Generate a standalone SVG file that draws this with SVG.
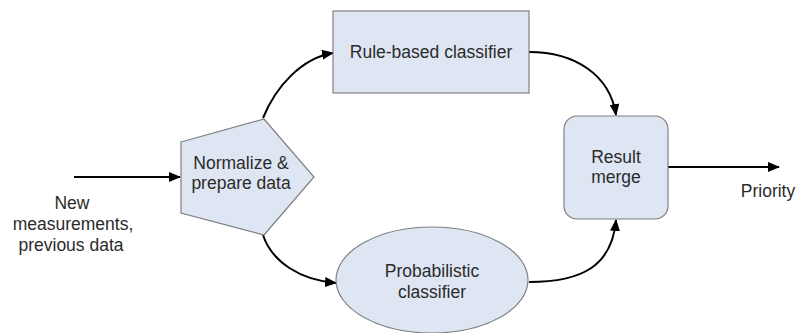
<svg xmlns="http://www.w3.org/2000/svg" width="797" height="333" viewBox="0 0 797 333">
  <style>
    .shape { fill: #dfe6f3; stroke: #7f7f7f; stroke-width: 1.2; }
    .label { font-family: "Liberation Sans", Arial, sans-serif; font-size: 17.5px; fill: #2b2b2b; text-anchor: middle; }
    .wire { fill: none; stroke: #000; stroke-width: 2; marker-end: url(#arrow); }
  </style>
  <defs>
    <marker id="arrow" markerUnits="userSpaceOnUse" markerWidth="12" markerHeight="10" refX="11" refY="5" orient="auto">
      <path d="M0,0 L12,5 L0,10 z" fill="#000"/>
    </marker>
  </defs>

  <rect width="797" height="333" fill="#fff"/>

  <!-- connectors -->
  <g id="connectors">
    <path class="wire" d="M74,177 L180,177"/>
    <path class="wire" d="M263,118 C276,86 302,58 333,53"/>
    <path class="wire" d="M263,235 C272,262 300,280 336,283"/>
    <path class="wire" d="M529,52 C575,52 610,75 616,115"/>
    <path class="wire" d="M529,282 C582,282 612,266 616,220"/>
    <path class="wire" d="M668,167 L779,167"/>
  </g>

  <!-- input text -->
  <g id="input">
    <text class="label" x="72" y="209">New</text>
    <text class="label" x="73" y="230">measurements,</text>
    <text class="label" x="71" y="251">previous data</text>
  </g>

  <!-- normalize step -->
  <g id="normalize">
    <polygon class="shape" points="181,142 264,119 314,177 264,235 181,213"/>
    <text class="label" x="241" y="169">Normalize &amp;</text>
    <text class="label" x="241" y="189">prepare data</text>
  </g>

  <!-- rule-based classifier -->
  <g id="rule">
    <rect class="shape" x="333" y="11" width="196" height="82"/>
    <text class="label" x="431" y="58">Rule-based classifier</text>
  </g>

  <!-- probabilistic classifier -->
  <g id="prob">
    <ellipse class="shape" cx="432" cy="280" rx="96" ry="53"/>
    <text class="label" x="432" y="277">Probabilistic</text>
    <text class="label" x="432" y="298">classifier</text>
  </g>

  <!-- result merge -->
  <g id="merge">
    <rect class="shape" x="564" y="116" width="104" height="103" rx="13" ry="13"/>
    <text class="label" x="616" y="163">Result</text>
    <text class="label" x="616" y="183">merge</text>
  </g>

  <!-- output text -->
  <g id="output">
    <text class="label" x="768" y="197">Priority</text>
  </g>
</svg>
